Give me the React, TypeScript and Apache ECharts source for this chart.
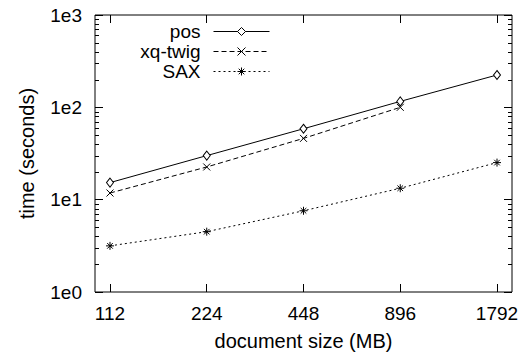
import React, { useEffect, useRef } from "react";
import * as echarts from "echarts";

const sizes = [112, 224, 448, 896, 1792];
const posTimes = [15.3, 30.0, 58.6, 116, 224];
const xqTwigTimes = [11.8, 22.6, 46.1, 100];
const saxTimes = [3.16, 4.5, 7.58, 13.3, 25.2];
const yMajorTicks = [1, 10, 100, 1000];
const yMinorTicks = [2, 3, 4, 5, 6, 7, 8, 9, 20, 30, 40, 50, 60, 70, 80, 90, 200, 300, 400, 500, 600, 700, 800, 900];

const FONT = "Liberation Sans, Arial, Helvetica, sans-serif";

export default function App() {
  const ref = useRef<HTMLDivElement>(null);
  useEffect(() => {
    if (!ref.current) return;
    const chart = echarts.init(ref.current, undefined, { renderer: "svg" });
    const pad = Math.pow(2, 0.155);
    const xMin = sizes[0] / pad;
    const xMax = sizes[sizes.length - 1] * pad;
    const pair = (vals: number[]) => vals.map((v, i) => [sizes[i], v]);
    const baseX = {
      type: "log",
      logBase: 2,
      min: xMin,
      max: xMax,
      splitLine: { show: false },
      axisLine: { show: false },
      axisTick: { show: true, inside: true, length: 8, customValues: sizes, lineStyle: { color: "#000", width: 1 } },
    };
    const baseY = {
      type: "log",
      logBase: 10,
      min: 1,
      max: 1000,
      splitLine: { show: false },
      axisLine: { show: false },
      axisTick: { show: true, inside: true, length: 8, customValues: yMajorTicks, lineStyle: { color: "#000", width: 1 } },
    };
    chart.setOption({
      animation: false,
      backgroundColor: "#fff",
      grid: { left: 95, top: 15, width: 417, height: 278, show: true, borderColor: "#000", borderWidth: 1, backgroundColor: "transparent" },
      xAxis: [
        {
          ...baseX,
          position: "bottom",
          name: "document size (MB)",
          nameLocation: "middle",
          nameGap: 39,
          nameTextStyle: { fontFamily: FONT, fontSize: 20, color: "#000" },
          axisLabel: { show: true, customValues: sizes, margin: 12, fontFamily: FONT, fontSize: 19, color: "#000", formatter: (v: number) => String(Math.round(v)) },
        },
        { ...baseX, position: "top", axisLabel: { show: false } },
      ],
      yAxis: [
        {
          ...baseY,
          position: "left",
          name: "time (seconds)",
          nameLocation: "middle",
          nameGap: 58,
          nameTextStyle: { fontFamily: FONT, fontSize: 20, color: "#000" },
          axisLabel: {
            show: true,
            customValues: yMajorTicks,
            margin: 13,
            fontFamily: FONT,
            fontSize: 19,
            color: "#000",
            formatter: (v: number) => "1e" + Math.round(Math.log10(v)),
          },
        },
        { ...baseY, position: "right", axisLabel: { show: false } },
      ],
      legend: {
        data: ["pos", "xq-twig", "SAX"],
        orient: "vertical",
        align: "right",
        right: 251,
        top: 17,
        itemWidth: 56,
        itemHeight: 10,
        itemGap: 1,
        lineStyle: { width: 1 },
        itemStyle: { borderWidth: 1 },
        textStyle: { fontFamily: FONT, fontSize: 19, color: "#000", padding: [0, 8, 0, 0] },
      },
      series: [
        {
          name: "pos",
          type: "line",
          data: pair(posTimes),
          symbol: "diamond",
          symbolSize: [7, 9],
          showSymbol: true,
          lineStyle: { color: "#000", width: 1, type: "solid" },
          itemStyle: { color: "#fff", borderColor: "#000", borderWidth: 1 },
          z: 3,
        },
        {
          name: "xq-twig",
          type: "line",
          data: pair(xqTwigTimes),
          symbol: "path://M0,0L10,10M10,0L0,10",
          symbolSize: 7,
          lineStyle: { color: "#000", width: 1, type: [5, 3] },
          itemStyle: { color: "#000", borderColor: "#000", borderWidth: 1 },
          z: 3,
        },
        {
          name: "SAX",
          type: "line",
          data: pair(saxTimes),
          symbol: "path://M5,0L5,10M0,5L10,5M1.5,1.5L8.5,8.5M8.5,1.5L1.5,8.5",
          symbolSize: 8,
          lineStyle: { color: "#000", width: 1, type: [2, 3] },
          itemStyle: { color: "#000", borderColor: "#000", borderWidth: 1 },
          z: 3,
        },
        {
          name: "minorTicks",
          type: "custom",
          silent: true,
          data: yMinorTicks.map((v) => [sizes[0], v]),
          renderItem: (params: any, api: any) => {
            const y = api.coord([sizes[0], api.value(1)])[1];
            const cs = params.coordSys;
            const yy = Math.round(y) + 0.5;
            return {
              type: "group",
              children: [
                { type: "line", shape: { x1: cs.x, y1: yy, x2: cs.x + 4, y2: yy }, style: { stroke: "#000", lineWidth: 1 } },
                { type: "line", shape: { x1: cs.x + cs.width - 4, y1: yy, x2: cs.x + cs.width, y2: yy }, style: { stroke: "#000", lineWidth: 1 } },
              ],
            };
          },
          z: 2,
        },
      ],
    });
    return () => chart.dispose();
  }, []);
  return <div ref={ref} style={{ position: "absolute", left: 0, top: 0, width: 526, height: 356 }} />;
}
